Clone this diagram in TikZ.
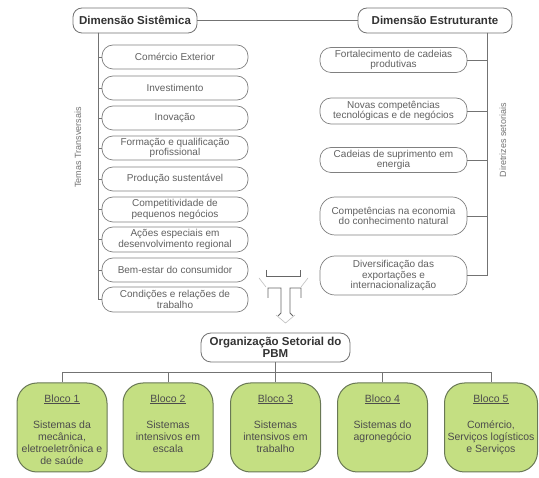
\documentclass[tikz,border=0pt]{standalone}
\usepackage{fontspec}
\setmainfont{Liberation Sans}
\definecolor{bfill}{RGB}{196,223,130}
\definecolor{bdraw}{RGB}{105,120,85}
\newcommand\blocotext[2]{\parbox[c][84pt][t]{88pt}{\centering\vspace*{9pt}\underline{#1}\par\vspace{14pt}#2}}
\begin{document}
\begin{tikzpicture}[x=1pt,y=-1pt,
 head/.style={draw=black!55, line width=0.8pt, rounded corners=9pt, font=\fontsize{11.5}{12}\selectfont\bfseries, text=black!80, minimum height=25pt, inner sep=2pt, align=center},
 ibox/.style={draw=black!50, line width=0.7pt, rounded corners=11pt, minimum width=146pt, minimum height=24pt, align=center, font=\fontsize{10}{10.5}\selectfont, text=black!62, inner sep=1pt},
 bloco/.style={draw=bdraw, fill=bfill, line width=1pt, rounded corners=20pt, minimum width=90pt, minimum height=89pt, inner sep=0pt, font=\fontsize{10.5}{12}\selectfont, text=black!70},
 link/.style={draw=black!55, line width=0.7pt},
 vlabel/.style={rotate=90, font=\fontsize{9}{10}\selectfont, text=black!55},
 arr/.style={draw=black!60, line width=0.9pt},
 arrlight/.style={draw=black!25, line width=0.6pt}]
\useasboundingbox (0,0) rectangle (539,478);
\fill[white] (0,0) rectangle (539,478);

% headings
\node[head, minimum width=124pt] (sis) at (135,20.5) {Dimensão Sistêmica};
\node[head, minimum width=154pt] (est) at (435,20.5) {Dimensão Estruturante};
\draw[link] (sis.east) -- (est.west);

% left column
\node[ibox] (l1) at (175,57) {Comércio Exterior};
\node[ibox] (l2) at (175,88) {Investimento};
\node[ibox] (l3) at (175,118) {Inovação};
\node[ibox] (l4) at (175,148) {Formação e qualificação\\profissional};
\node[ibox] (l5) at (175,179) {Produção sustentável};
\node[ibox, minimum height=25pt] (l6) at (175,209.5) {Competitividade de\\pequenos negócios};
\node[ibox, minimum height=25pt] (l7) at (175,239.5) {Ações especiais em\\desenvolvimento regional};
\node[ibox] (l8) at (175,270) {Bem-estar do consumidor};
\node[ibox, minimum height=25pt] (l9) at (175,299.5) {Condições e relações de\\trabalho};
\coordinate (tl) at (98,33);
\foreach \i in {1,...,9} {\draw[link] (tl) |- (l\i.west);}
\node[vlabel] (tt) at (78,147.5) {Temas Transversais};

% right column
\node[ibox, minimum width=147pt, minimum height=25pt] (r1) at (393.5,60) {Fortalecimento de cadeias\\produtivas};
\node[ibox, minimum width=147pt, minimum height=26pt] (r2) at (393.5,111) {Novas competências\\tecnológicas e de negócios};
\node[ibox, minimum width=147pt, minimum height=25pt] (r3) at (393.5,160) {Cadeias de suprimento em\\energia};
\node[ibox, minimum width=147pt, minimum height=38pt, rounded corners=15pt] (r4) at (393.5,216) {Competências na economia\\do conhecimento natural};
\node[ibox, minimum width=147pt, minimum height=39pt, rounded corners=15pt] (r5) at (393.5,275.5) {Diversificação das\\exportações e\\internacionalização};
\coordinate (tr) at (487,33);
\foreach \i in {1,...,5} {\draw[link] (tr) |- (r\i.east);}
\node[vlabel] (ds) at (503,140) {Diretrizes setoriais};

% merge arrow icon
\draw[arr] (266,270) -- (266,276) -- (300,276) -- (300,270);
\draw[arr] (268,298) -- (268,288) -- (281,288) -- (281,313) -- (278,316);
\draw[arr] (301,298) -- (301,288) -- (290,288) -- (290,313) -- (293,316);
\draw[arrlight] (259,278) -- (266,287);
\draw[arrlight] (308,278) -- (301,287);
\draw[arrlight] (276,315) -- (285.5,323) -- (295,315);

% organisation
\node[head, minimum width=149pt, minimum height=29pt, rounded corners=10pt, font=\fontsize{11.5}{12}\selectfont\bfseries] (org) at (275.5,347.5) {Organização Setorial do\\PBM};

\node[bloco] (b1) at (62,427.5) {\blocotext{Bloco 1}{Sistemas da\\mecânica,\\eletroeletrônica e\\de saúde}};
\node[bloco] (b2) at (168,427.5) {\blocotext{Bloco 2}{Sistemas\\intensivos em\\escala}};
\node[bloco] (b3) at (275.5,427.5) {\blocotext{Bloco 3}{Sistemas\\intensivos em\\trabalho}};
\node[bloco] (b4) at (382.5,427.5) {\blocotext{Bloco 4}{Sistemas do\\agronegócio}};
\node[bloco, minimum width=93pt] (b5) at (491,427.5) {\blocotext{Bloco 5}{Comércio,\\Serviços logísticos\\e Serviços}};

\coordinate (bus) at (0,372);
\draw[link] (org.south) -- (b3.north);
\draw[link] (b1.north) -- (b1.north |- bus) -| (b5.north);
\draw[link] (b2.north) -- (b2.north |- bus);
\draw[link] (b4.north) -- (b4.north |- bus);
\end{tikzpicture}
\end{document}
